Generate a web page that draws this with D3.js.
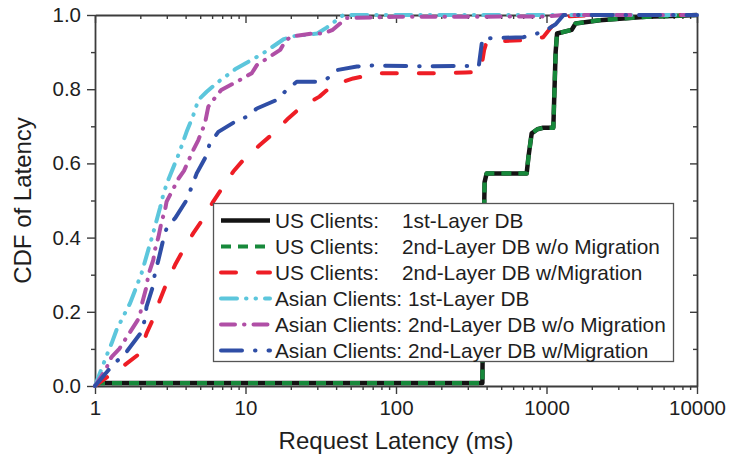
<!DOCTYPE html>
<html>
<head>
<meta charset="utf-8">
<script src="https://cdn.jsdelivr.net/npm/d3@7"></script>
<style>
  body { margin: 0; background: #fff; }
  svg { display: block; }
  text { font-family: "Liberation Sans", Arial, Helvetica, sans-serif; fill: #1e1e1e; }
</style>
</head>
<body>
<svg id="chart" width="729" height="459"></svg>
<script>
// Request latency (ms) and cumulative fraction for each client / database setup
const usFirstLatency  = [1, 375, 382, 388, 400, 738, 760, 797, 870, 950, 1110, 1150, 1175, 1470, 1560, 2260, 4600, 7700, 10000];
const usFirstCdf      = [0.008, 0.008, 0.4, 0.55, 0.573, 0.573, 0.62, 0.681, 0.692, 0.696, 0.696, 0.9, 0.95, 0.96, 0.977, 0.986, 0.995, 0.998, 1.0];

const usNoMigLatency  = [1, 375, 382, 388, 400, 738, 760, 797, 870, 950, 1110, 1150, 1175, 1470, 1560, 2260, 4600, 7700, 10000];
const usNoMigCdf      = [0.008, 0.008, 0.4, 0.55, 0.573, 0.573, 0.62, 0.681, 0.692, 0.696, 0.696, 0.9, 0.95, 0.96, 0.977, 0.986, 0.995, 0.998, 1.0];

const usMigLatency    = [1, 1.26, 1.58, 1.99, 2.2, 2.44, 2.7, 2.99, 3.4, 3.86, 4.5, 5.25, 6.1, 7.1, 8.3, 9.9, 12.5, 15.3, 19.3, 23.6, 31, 38, 52, 78, 200, 290, 365, 385, 400, 700, 950, 1105, 1260, 2000, 10000];
const usMigCdf        = [0, 0.03, 0.057, 0.088, 0.142, 0.182, 0.232, 0.277, 0.326, 0.367, 0.412, 0.452, 0.497, 0.537, 0.578, 0.614, 0.65, 0.681, 0.722, 0.753, 0.78, 0.811, 0.829, 0.843, 0.843, 0.845, 0.847, 0.905, 0.928, 0.932, 0.94, 0.973, 0.995, 1.0, 1.0];

const asiaFirstLatency = [1, 1.11, 1.2, 1.29, 1.39, 1.58, 1.71, 1.85, 2.04, 2.26, 2.38, 2.7, 2.84, 3.0, 3.6, 4.06, 4.5, 4.86, 5.52, 6.6, 8.7, 11, 13.1, 17.8, 20, 30, 34.6, 44.7, 10000];
const asiaFirstCdf     = [0, 0.048, 0.084, 0.115, 0.151, 0.196, 0.223, 0.259, 0.304, 0.367, 0.398, 0.479, 0.515, 0.546, 0.625, 0.685, 0.73, 0.771, 0.793, 0.82, 0.856, 0.879, 0.897, 0.934, 0.942, 0.95, 0.966, 1.0, 1.0];

const asiaNoMigLatency = [1, 1.2, 1.23, 1.3, 1.45, 1.54, 1.66, 1.89, 1.99, 2.04, 2.2, 2.26, 2.44, 2.5, 2.64, 2.77, 2.92, 2.99, 3.2, 3.6, 3.9, 4.5, 4.86, 5.38, 5.66, 6.1, 6.9, 9.2, 11, 11.9, 17, 18.3, 20, 28, 33, 38, 47, 100, 1000, 1300, 10000];
const asiaNoMigCdf     = [0, 0.05, 0.066, 0.08, 0.1, 0.117, 0.137, 0.173, 0.187, 0.218, 0.268, 0.299, 0.34, 0.367, 0.402, 0.443, 0.474, 0.497, 0.52, 0.56, 0.58, 0.636, 0.663, 0.708, 0.753, 0.771, 0.798, 0.825, 0.843, 0.865, 0.906, 0.928, 0.942, 0.95, 0.95, 0.96, 0.992, 0.995, 0.996, 1.0, 1.0];

const asiaMigLatency   = [1, 1.23, 1.39, 1.62, 2.04, 2.15, 2.2, 2.44, 2.5, 2.64, 2.84, 2.99, 3.4, 4.06, 4.39, 4.74, 5.38, 5.8, 6.6, 8.5, 10.2, 11.9, 16.1, 19, 21.9, 29.7, 35, 41, 55, 70, 150, 355, 375, 700, 880, 1000, 1150, 1300, 10000];
const asiaMigCdf       = [0, 0.043, 0.066, 0.092, 0.146, 0.182, 0.214, 0.272, 0.304, 0.34, 0.394, 0.425, 0.452, 0.501, 0.537, 0.573, 0.614, 0.654, 0.685, 0.712, 0.726, 0.748, 0.771, 0.8, 0.82, 0.82, 0.829, 0.852, 0.861, 0.864, 0.862, 0.863, 0.937, 0.94, 0.951, 0.96, 0.975, 1.0, 1.0];

const clientLabels = ["US Clients:", "US Clients:", "US Clients:", "Asian Clients:", "Asian Clients:", "Asian Clients:"];
const dbLabels     = ["1st-Layer DB", "2nd-Layer DB w/o Migration", "2nd-Layer DB w/Migration",
                      "1st-Layer DB", "2nd-Layer DB w/o Migration", "2nd-Layer DB w/Migration"];

const xTickValues = [1, 10, 100, 1000, 10000];
const xTickLabels = ["1", "10", "100", "1000", "10000"];
const yTickValues = [0, 0.2, 0.4, 0.6, 0.8, 1.0];
const yTickLabels = ["0.0", "0.2", "0.4", "0.6", "0.8", "1.0"];

// Line appearance for each series, in drawing order
const styles = [
  { color: "#141414", width: 4.5, dash: null,               cap: "butt"  },
  { color: "#17893b", width: 4.2, dash: "10,7",             cap: "butt"  },
  { color: "#ee1d25", width: 4,   dash: "15,22",            cap: "round" },
  { color: "#5cc6dc", width: 4,   dash: "16,9,0.5,9,0.5,9", cap: "round" },
  { color: "#b04fa6", width: 4,   dash: "14,9,0.5,9",       cap: "round" },
  { color: "#2f4ea6", width: 4,   dash: "21,13,0.5,13",     cap: "round" }
];

const seriesData = [
  [usFirstLatency, usFirstCdf],
  [usNoMigLatency, usNoMigCdf],
  [usMigLatency, usMigCdf],
  [asiaFirstLatency, asiaFirstCdf],
  [asiaNoMigLatency, asiaNoMigCdf],
  [asiaMigLatency, asiaMigCdf]
].map(([xs, ys]) => xs.map((v, i) => ({ x: v, y: ys[i] })));

const svg = d3.select("#chart");
const plotLeft = 95, plotRight = 697, plotTop = 15, plotBottom = 386;

const x = d3.scaleLog().domain([1, 10000]).range([plotLeft, plotRight]);
const y = d3.scaleLinear().domain([0, 1]).range([plotBottom, plotTop]);

const minorX = [];
for (let d = 1; d < 10000; d *= 10) for (let k = 2; k <= 9; k++) minorX.push(d * k);
const minorY = [0.1, 0.3, 0.5, 0.7, 0.9];

const axisColor = "#3c3c3c";
const tickFont = "20.5px";

// Bottom axis (outward ticks, labelled)
const gBottom = svg.append("g").attr("transform", `translate(0,${plotBottom})`);
gBottom.call(d3.axisBottom(x).tickValues(xTickValues).tickFormat((d, i) => xTickLabels[i]).tickSizeInner(8).tickSizeOuter(0).tickPadding(6));
gBottom.append("g").call(d3.axisBottom(x).tickValues(minorX).tickFormat("").tickSizeInner(4).tickSizeOuter(0)).select(".domain").remove();

// Top axis: ticks hang down into the plot
const gTop = svg.append("g").attr("transform", `translate(0,${plotTop})`);
gTop.call(d3.axisBottom(x).tickValues(xTickValues).tickFormat("").tickSizeInner(8).tickSizeOuter(0));
gTop.append("g").call(d3.axisBottom(x).tickValues(minorX).tickFormat("").tickSizeInner(4).tickSizeOuter(0)).select(".domain").remove();

// Left axis (outward ticks, labelled)
const gLeft = svg.append("g").attr("transform", `translate(${plotLeft},0)`);
gLeft.call(d3.axisLeft(y).tickValues(yTickValues).tickFormat((d, i) => yTickLabels[i]).tickSizeInner(8).tickSizeOuter(0).tickPadding(6));
gLeft.append("g").call(d3.axisLeft(y).tickValues(minorY).tickFormat("").tickSizeInner(4).tickSizeOuter(0)).select(".domain").remove();

// Right axis: ticks point left into the plot
const gRight = svg.append("g").attr("transform", `translate(${plotRight},0)`);
gRight.call(d3.axisLeft(y).tickValues(yTickValues).tickFormat("").tickSizeInner(7).tickSizeOuter(0));
gRight.append("g").call(d3.axisLeft(y).tickValues(minorY).tickFormat("").tickSizeInner(4).tickSizeOuter(0)).select(".domain").remove();

[gBottom, gTop, gLeft, gRight].forEach(g => {
  g.selectAll(".domain").attr("stroke", axisColor).attr("stroke-width", 1.8);
  g.selectAll("line").attr("stroke", axisColor).attr("stroke-width", 1.4);
  g.selectAll("text").attr("font-size", tickFont).attr("fill", "#1e1e1e")
    .style("font-family", '"Liberation Sans", Arial, Helvetica, sans-serif');
});

// Axis titles
svg.append("text")
  .attr("x", (plotLeft + plotRight) / 2).attr("y", 449)
  .attr("text-anchor", "middle").attr("font-size", "24px")
  .text("Request Latency (ms)");

svg.append("text")
  .attr("transform", `translate(31,${(plotTop + plotBottom) / 2}) rotate(-90)`)
  .attr("text-anchor", "middle").attr("font-size", "24px")
  .text("CDF of Latency");

// CDF curves
const line = d3.line().x(d => x(d.x)).y(d => y(d.y));
seriesData.forEach((pts, i) => {
  const s = styles[i];
  svg.append("path")
    .datum(pts)
    .attr("d", line)
    .attr("fill", "none")
    .attr("stroke", s.color)
    .attr("stroke-width", s.width)
    .attr("stroke-dasharray", s.dash)
    .attr("stroke-linecap", s.cap)
    .attr("stroke-linejoin", "round");
});

// Legend
const legendFont = "20.8px";
const legend = svg.append("g");
legend.append("rect")
  .attr("x", 213.5).attr("y", 203.5).attr("width", 460).attr("height", 158)
  .attr("fill", "#fff").attr("stroke", "#555").attr("stroke-width", 1.3);

styles.forEach((s, i) => {
  const ly = 220.5 + i * 26;
  legend.append("line")
    .attr("x1", 221).attr("x2", 270).attr("y1", ly).attr("y2", ly)
    .attr("stroke", s.color).attr("stroke-width", s.width)
    .attr("stroke-dasharray", s.dash).attr("stroke-linecap", s.cap);
  if (i < 3) {
    legend.append("text").attr("x", 275).attr("y", ly + 7).attr("font-size", legendFont).text(clientLabels[i]);
    legend.append("text").attr("x", 402).attr("y", ly + 7).attr("font-size", legendFont).text(dbLabels[i]);
  } else {
    legend.append("text").attr("x", 275).attr("y", ly + 7).attr("font-size", legendFont)
      .text(clientLabels[i] + " " + dbLabels[i]);
  }
});
</script>
</body>
</html>
